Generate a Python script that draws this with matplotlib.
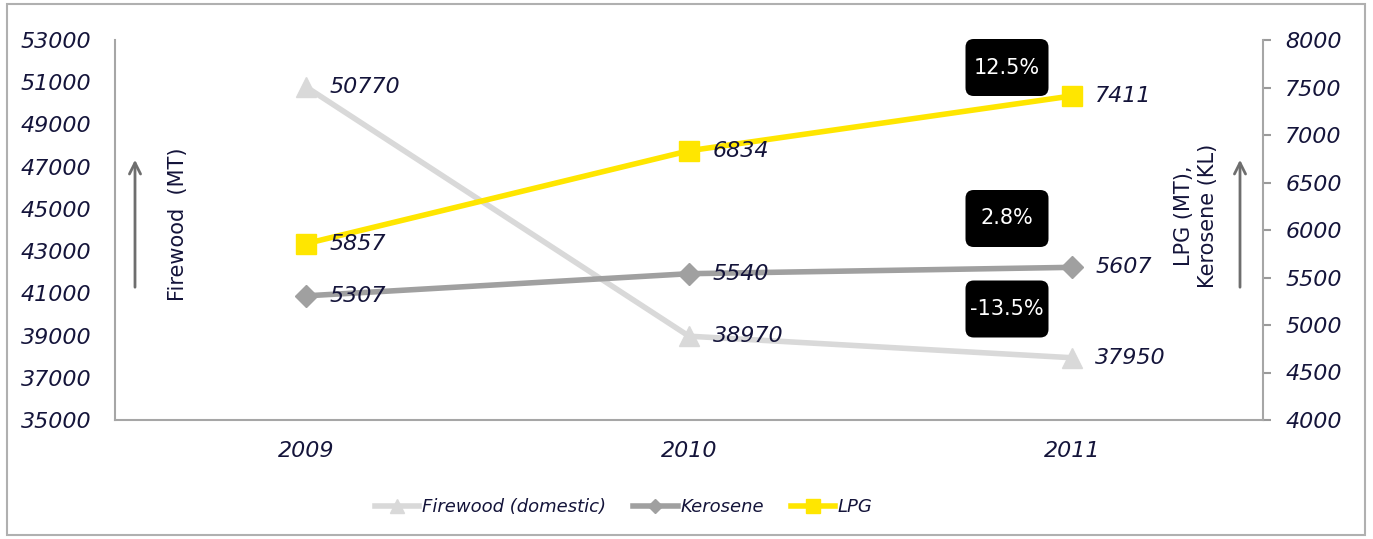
import matplotlib.pyplot as plt
from matplotlib.patches import Rectangle, FancyBboxPatch
from matplotlib.lines import Line2D

years = ["2009", "2010", "2011"]
firewood = [50770, 38970, 37950]
kerosene = [5307, 5540, 5607]
lpg = [5857, 6834, 7411]

growth_labels = ["12.5%", "2.8%", "-13.5%"]

left_ticks = list(range(35000, 53001, 2000))
right_ticks = list(range(4000, 8001, 500))

TEXT = "#14143a"
C_FIRE = "#d9d9d9"
C_KERO = "#a0a0a0"
C_LPG = "#ffe600"

W, H = 1373, 539

plt.rcParams["font.family"] = ["DejaVu Sans"]

fig = plt.figure(figsize=(W / 100, H / 100), dpi=100)
ax = fig.add_axes([115 / W, 1 - 420 / H, 1148 / W, 380 / H])
ax2 = ax.twinx()

x = [i + 0.5 for i in range(len(years))]

ax.plot(x, firewood, color=C_FIRE, lw=4, marker="^", ms=15, zorder=2)
ax2.plot(x, kerosene, color=C_KERO, lw=4, marker="D", ms=11, zorder=2)
ax2.plot(x, lpg, color=C_LPG, lw=4, marker="s", ms=15, zorder=3)

lab = dict(fontsize=16, style="italic", color=TEXT, va="center")
for xi, v in zip(x, firewood):
    ax.annotate(str(v), (xi, v), xytext=(17, 0), textcoords="offset points", **lab)
for xi, v in zip(x, kerosene):
    ax2.annotate(str(v), (xi, v), xytext=(17, 0), textcoords="offset points", **lab)
for xi, v in zip(x, lpg):
    ax2.annotate(str(v), (xi, v), xytext=(17, 0), textcoords="offset points", **lab)

ax.set_xlim(0, 3)
ax.set_ylim(35000, 53000)
ax2.set_ylim(4000, 8000)
ax.set_xticks(x)
ax.set_xticklabels(years, fontsize=16, style="italic", color=TEXT)
ax.set_yticks(left_ticks)
ax.set_yticklabels([str(t) for t in left_ticks], fontsize=16, style="italic", color=TEXT)
ax2.set_yticks(right_ticks)
ax2.set_yticklabels([str(t) for t in right_ticks], fontsize=16, style="italic", color=TEXT)

ax.tick_params(axis="x", length=0, pad=15)
ax.tick_params(axis="y", length=0, pad=17)
ax2.tick_params(axis="y", length=6, color="#9a9a9a", width=1.5, pad=10)

for a in (ax, ax2):
    a.spines["top"].set_visible(False)
    for s in ("left", "right", "bottom"):
        a.spines[s].set_color("#a6a6a6")
        a.spines[s].set_linewidth(1.5)
ax.spines["right"].set_visible(False)
ax2.spines["left"].set_visible(False)
ax2.spines["bottom"].set_visible(False)

# growth badges, 2009 -> 2011
badge_y = [67.5, 218.5, 309]
bw, bh = 83, 57
for txt, py in zip(growth_labels, badge_y):
    fig.patches.append(FancyBboxPatch(((1007 - bw / 2) / W, 1 - (py + bh / 2) / H), bw / W, bh / H,
                                      boxstyle="round,pad=0,rounding_size=0.006",
                                      mutation_aspect=W / H,
                                      transform=fig.transFigure, fc="black", ec="none"))
    fig.text(1007 / W, 1 - py / H, txt, color="white", fontsize=15,
             ha="center", va="center")

# axis titles with up arrows
fig.text(178 / W, 1 - 224 / H, "Firewood  (MT)", rotation=90, fontsize=15,
         color=TEXT, ha="center", va="center")
fig.text(1196 / W, 1 - 216 / H, "LPG (MT),\nKerosene (KL)", rotation=90, fontsize=15,
         color=TEXT, ha="center", va="center", linespacing=1.25)
for ax_x in (135, 1240):
    ax.annotate("", xy=(ax_x / W, 1 - 157 / H), xytext=(ax_x / W, 1 - 290 / H),
                xycoords="figure fraction", textcoords="figure fraction",
                arrowprops=dict(arrowstyle="->,head_length=0.8,head_width=0.4",
                                color="#6e6e6e", lw=2))

handles = [
    Line2D([], [], color=C_FIRE, lw=4, marker="^", ms=10),
    Line2D([], [], color=C_KERO, lw=4, marker="D", ms=7),
    Line2D([], [], color=C_LPG, lw=4, marker="s", ms=10),
]
fig.legend(handles, ["Firewood (domestic)", "Kerosene", "LPG"], loc="center",
           bbox_to_anchor=(624 / W, 1 - 507 / H), ncol=3, frameon=False,
           prop=dict(size=13, style="italic"), labelcolor=TEXT, handlelength=2.45,
           handletextpad=0.15, columnspacing=1.5)

fig.patches.append(Rectangle((7 / W, 4 / H), 1358 / W, 531 / H,
                             transform=fig.transFigure, fill=False,
                             ec="#b0b0b0", lw=1.5))

fig.savefig("out.png", dpi=100)
